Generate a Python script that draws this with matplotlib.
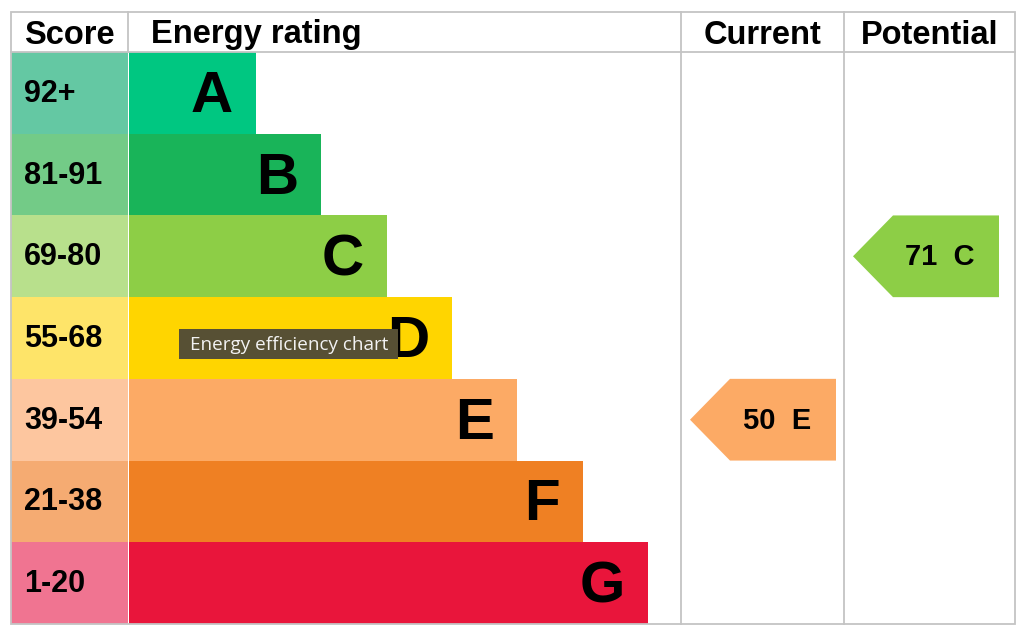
import matplotlib.pyplot as plt
from matplotlib.patches import Polygon, Rectangle

plt.rcParams['font.family'] = ['Liberation Sans', 'DejaVu Sans']

# bands, best to worst
bands = ['A', 'B', 'C', 'D', 'E', 'F', 'G']
score_ranges = ['92+', '81-91', '69-80', '55-68', '39-54', '21-38', '1-20']
band_min = [92, 81, 69, 55, 39, 21, 1]
bar_colors = ['#00c781', '#19b459', '#8dce46', '#ffd500', '#fcaa65', '#ef8023', '#e9153b']
score_colors = ['#64c8a3', '#73cb87', '#b8e08c', '#fee469', '#fdc69f', '#f5ab72', '#f07491']

current_score = 50
potential_score = 71

# layout in pixels (figure is 1024x633)
W, H = 1024, 633
left, right = 11, 1015
top, head_bot, bottom = 12, 52, 624
col_score = 128
col_cur = 681
col_pot = 844
row_h = (bottom - head_bot) / len(bands)
bar_w0, bar_step = 127, 65.3
grid_c = '#c4c4c4'


def band_of(score):
    for i, m in enumerate(band_min):
        if score >= m:
            return i
    return len(bands) - 1


fig = plt.figure(figsize=(W / 100, H / 100), dpi=100)
ax = fig.add_axes([0, 0, 1, 1])
ax.set_xlim(0, W)
ax.set_ylim(H, 0)
ax.axis('off')

rows = [head_bot + (i + 0.5) * row_h for i in range(len(bands))]
widths = [bar_w0 + bar_step * i for i in range(len(bands))]

# score cells and bars
ax.barh(rows, col_score - left, left=left, height=row_h, color=score_colors, linewidth=0)
ax.barh(rows, widths, left=col_score + 1, height=row_h, color=bar_colors, linewidth=0)

for i, y in enumerate(rows):
    ax.text(24, y + 1, score_ranges[i], fontsize=22, fontweight='bold', va='center', ha='left')
    ax.text(col_score + 1 + widths[i] - 23, y + 4, bands[i], fontsize=42,
            fontweight='bold', va='center', ha='right')


def arrow(x0, x1, score):
    i = band_of(score)
    yt = head_bot + i * row_h
    yb = yt + row_h
    tip = 40
    pts = [(x0, (yt + yb) / 2), (x0 + tip, yt), (x1, yt), (x1, yb), (x0 + tip, yb)]
    ax.add_patch(Polygon(pts, closed=True, color=bar_colors[i], linewidth=0))
    ax.text((x0 + tip + x1) / 2 - 6, (yt + yb) / 2 + 1, f'{score}  {bands[i]}',
            fontsize=21, fontweight='bold', va='center', ha='center')


arrow(690, 836, current_score)
arrow(853, 999, potential_score)

# grid lines
ax.add_patch(Rectangle((left, top), right - left, bottom - top, fill=False,
                       edgecolor=grid_c, linewidth=1.3))
ax.plot([left, right], [head_bot, head_bot], color=grid_c, lw=1.3)
ax.plot([col_score, col_score], [top, head_bot], color=grid_c, lw=1.3)
for x in (col_cur, col_pot):
    ax.plot([x, x], [top, bottom], color=grid_c, lw=1.3)

# header
hy = (top + head_bot) / 2 + 3
ax.text(24, hy, 'Score', fontsize=23.5, fontweight='bold', va='center', ha='left')
ax.text(151, hy, 'Energy rating', fontsize=23.5, fontweight='bold', va='center', ha='left')
ax.text((col_cur + col_pot) / 2, hy, 'Current', fontsize=23.5, fontweight='bold',
        va='center', ha='center')
ax.text((col_pot + right) / 2, hy, 'Potential', fontsize=23.5, fontweight='bold',
        va='center', ha='center')

# tooltip overlay
ax.add_patch(Rectangle((179, 329), 219, 30, color='#575034', linewidth=0, zorder=5))
ax.text(190, 345, 'Energy efficiency chart', fontsize=13.6, color='#f2f2f2',
        va='center', ha='left', zorder=6, family=['Open Sans', 'DejaVu Sans'])

fig.savefig('out.png', dpi=100)
